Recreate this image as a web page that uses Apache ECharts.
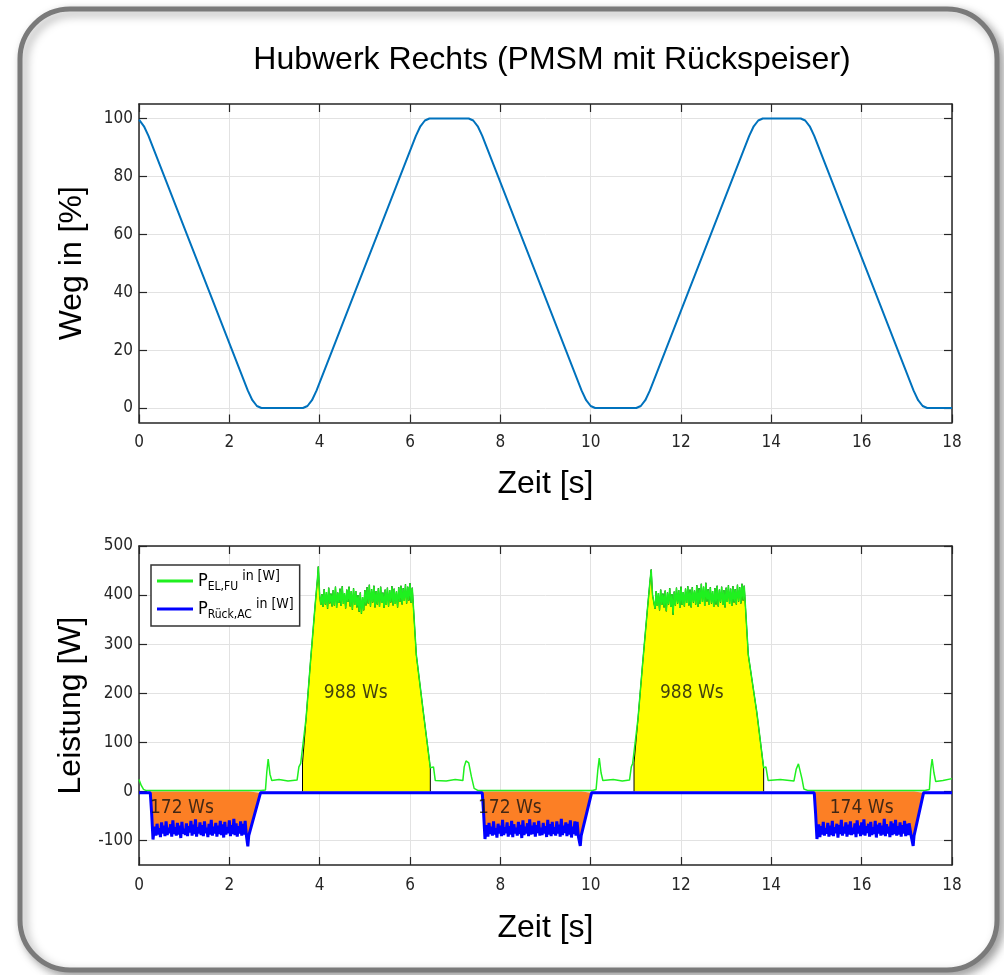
<!DOCTYPE html>
<html>
<head>
<meta charset="utf-8">
<title>Hubwerk Rechts</title>
<script src="https://cdn.jsdelivr.net/npm/echarts@6/dist/echarts.min.js"></script>
<style>
  html, body { margin: 0; padding: 0; background: #fff; }
  #chart { width: 1004px; height: 975px; }
</style>
</head>
<body>
<div id="chart"></div>
<script>
// --- data ---
const wegTicks = [0, 20, 40, 60, 80, 100];
const leistungTicks = [-100, 0, 100, 200, 300, 400, 500];

// Weg in [%] over Zeit [s]
const weg = [
  [0, 99.6], [0.11, 97.3], [0.21, 94], [0.56, 80], [1.06, 60], [1.56, 40], [2.06, 20],
  [2.41, 6], [2.51, 2.7], [2.61, 0.7], [2.71, 0],
  [3.63, 0], [3.73, 0.7], [3.83, 2.7], [3.93, 6], [4.28, 20], [4.78, 40], [5.28, 60], [5.78, 80],
  [6.13, 94], [6.23, 97.3], [6.33, 99.3], [6.43, 100],
  [7.30, 100], [7.40, 99.3], [7.50, 97.3], [7.60, 94], [7.95, 80], [8.45, 60], [8.95, 40], [9.45, 20],
  [9.80, 6], [9.90, 2.7], [10.00, 0.7], [10.10, 0],
  [11.01, 0], [11.11, 0.7], [11.21, 2.7], [11.31, 6], [11.66, 20], [12.16, 40], [12.66, 60], [13.16, 80],
  [13.51, 94], [13.61, 97.3], [13.71, 99.3], [13.81, 100],
  [14.65, 100], [14.75, 99.3], [14.85, 97.3], [14.95, 94], [15.30, 80], [15.80, 60], [16.30, 40], [16.80, 20],
  [17.15, 6], [17.25, 2.7], [17.35, 0.7], [17.45, 0], [18, 0]
];

// P_EL,FU – pieces around the two noisy plateaus
const elStart = [
  [0, 24], [0.05, 12], [0.1, 4], [0.15, 2], [2.7, 2], [2.8, 3], [2.83, 40], [2.86, 66], [2.9, 35],
  [2.94, 22], [3.1, 24], [3.3, 21], [3.5, 23], [3.54, 50], [3.58, 57], [3.62, 58], [3.7, 150],
  [3.8, 268], [3.9, 380], [3.95, 432], [3.97, 458], [4.0, 400], [4.025, 380]
];
const elPlateau1 = [ // 4.05 .. 6.05, every 0.025 s
  402, 376, 412, 381, 406, 372, 415, 383, 403, 377,
  410, 379, 417, 374, 405, 384, 413, 378, 418, 382,
  404, 373, 411, 386, 417, 377, 408, 370, 414, 380,
  408, 375, 400, 366, 405, 362, 396, 369, 410, 379,
  416, 383, 421, 377, 412, 385, 419, 375, 408, 381,
  414, 376, 417, 384, 405, 374, 411, 380, 415, 377,
  410, 385, 418, 379, 413, 382, 407, 375, 416, 386,
  419, 381, 414, 388, 422, 383, 417, 389, 424, 384,
  415
];
const elMid = [
  [6.14, 278], [6.3, 158], [6.45, 48], [6.52, 50], [6.56, 22], [6.8, 21], [7.0, 24], [7.17, 22],
  [7.2, 50], [7.24, 62], [7.3, 58], [7.36, 30], [7.42, 6], [7.5, 2], [10.04, 2], [10.12, 4],
  [10.16, 45], [10.19, 68], [10.23, 38], [10.27, 22], [10.5, 24], [10.7, 21], [10.86, 23],
  [10.9, 50], [10.93, 57], [10.96, 58], [11.05, 150], [11.15, 260], [11.25, 365], [11.31, 425],
  [11.34, 452], [11.37, 400]
];
const elPlateau2 = [ // 11.40 .. 13.40
  400, 372, 408, 378, 404, 369, 411, 380, 403, 375,
  409, 367, 405, 381, 414, 376, 402, 360, 407, 379,
  415, 383, 410, 374, 417, 380, 406, 377, 413, 384,
  418, 379, 411, 375, 416, 385, 409, 381, 420, 376,
  414, 382, 423, 386, 417, 378, 425, 387, 412, 380,
  416, 383, 408, 376, 414, 381, 419, 377, 411, 385,
  417, 380, 410, 375, 415, 386, 420, 382, 413, 378,
  418, 385, 412, 381, 421, 387, 416, 383, 423, 389,
  419
];
const elEnd = [
  [13.49, 278], [13.68, 160], [13.83, 48], [13.88, 50], [13.93, 22], [14.2, 24], [14.5, 21],
  [14.55, 45], [14.6, 56], [14.64, 54], [14.68, 25], [14.72, 5], [14.8, 2], [17.4, 2], [17.5, 4],
  [17.53, 45], [17.56, 66], [17.6, 38], [17.64, 20], [17.8, 22], [18, 26]
];

// P_Rück,AC
const rueckPlateau1 = [ // 0.35 .. 2.35, every 0.025 s
  -72, -90, -66, -88, -75, -93, -63, -86, -70, -91,
  -61, -89, -74, -85, -67, -92, -59, -87, -73, -90,
  -64, -88, -70, -95, -62, -86, -76, -89, -65, -91,
  -71, -84, -60, -90, -68, -87, -57, -92, -73, -86,
  -63, -89, -69, -91, -61, -85, -74, -93, -66, -88,
  -58, -90, -72, -86, -64, -92, -70, -87, -60, -89,
  -67, -94, -62, -88, -73, -85, -59, -91, -69, -87,
  -56, -89, -65, -92, -71, -86, -61, -90, -66, -88,
  -60
];
const rueckPlateau2 = [ // 7.70 .. 9.70
  -69, -92, -64, -87, -72, -90, -61, -88, -75, -94,
  -66, -86, -70, -91, -58, -89, -73, -85, -63, -92,
  -71, -88, -60, -93, -67, -86, -74, -90, -62, -87,
  -68, -95, -59, -89, -72, -86, -65, -91, -57, -88,
  -70, -87, -63, -92, -69, -85, -60, -90, -74, -89,
  -64, -86, -71, -93, -58, -88, -67, -91, -62, -87,
  -73, -90, -61, -86, -68, -92, -56, -89, -70, -85,
  -63, -91, -66, -88, -59, -94, -72, -87, -61, -90,
  -62
];
const rueckPlateau3 = [ // 15.05 .. 17.05
  -67, -93, -71, -88, -62, -90, -75, -86, -64, -92,
  -70, -89, -60, -91, -73, -85, -66, -94, -69, -87,
  -58, -90, -72, -86, -63, -92, -68, -88, -61, -89,
  -74, -87, -65, -93, -59, -86, -70, -91, -63, -88,
  -57, -90, -71, -85, -66, -92, -62, -89, -73, -87,
  -60, -94, -68, -86, -64, -90, -70, -88, -56, -91,
  -67, -86, -72, -93, -61, -89, -65, -87, -58, -90,
  -71, -88, -63, -92, -69, -86, -60, -91, -66, -89,
  -65
];
const rueckEdges = [
  [[0, -3], [0.25, -3], [0.28, -45], [0.31, -98], [0.33, -82]],
  [[2.38, -92], [2.41, -112], [2.43, -90], [2.69, -3], [7.6, -3], [7.63, -45], [7.66, -97], [7.68, -82]],
  [[9.73, -93], [9.77, -111], [9.79, -90], [10.02, -3], [14.95, -3], [14.98, -45], [15.01, -97], [15.03, -82]],
  [[17.1, -93], [17.14, -111], [17.16, -90], [17.37, -3], [18, -3]]
];

// shaded energy areas [from, to] and their labels
const motorSpans = [[3.62, 6.45], [10.96, 13.83]];
const rueckSpans = [[0.25, 2.69], [7.6, 10.02], [14.95, 17.37]];
const annoText = ['988 Ws', '988 Ws', '172 Ws', '172 Ws', '174 Ws'];
const annoTime = [4.8, 12.24, 0.95, 8.21, 16.0];
const annoValue = [200, 200, -33, -33, -33];

// --- build series data ---
const step = 0.025;
const withTime = (t0, vals) => vals.map((v, i) => [+(t0 + i * step).toFixed(3), v]);

const pEl = [].concat(elStart, withTime(4.05, elPlateau1), elMid, withTime(11.40, elPlateau2), elEnd);
const pRueck = [].concat(
  rueckEdges[0], withTime(0.35, rueckPlateau1),
  rueckEdges[1], withTime(7.70, rueckPlateau2),
  rueckEdges[2], withTime(15.05, rueckPlateau3),
  rueckEdges[3]
);

const slice = (arr, a, b) => arr.filter(p => p[0] >= a && p[0] <= b);

const NARROW = "'DejaVu Sans', sans-serif";
const SANS = "'Liberation Sans', Arial, sans-serif";
const AXIS_COL = '#262626';
const GRID_COL = '#e2e2e2';

const nameEl = 'P_EL,FU in [W]';
const nameRueck = 'P_Rück,AC in [W]';

const tickFont = { fontSize: 17, fontStyle: 'condensed', color: AXIS_COL, fontFamily: NARROW };

function xAxisMain(gridIndex, gap) {
  return {
    type: 'value', gridIndex: gridIndex, position: 'bottom', min: 0, max: 18, interval: 2,
    axisLine: { show: true, onZero: false, lineStyle: { color: AXIS_COL, width: 1.5 } },
    axisTick: { show: true, inside: true, length: 8, lineStyle: { color: AXIS_COL, width: 1.2 } },
    axisLabel: Object.assign({ margin: 12 }, tickFont),
    splitLine: { show: true, lineStyle: { color: GRID_COL, width: 1 } },
    name: 'Zeit [s]', nameLocation: 'middle', nameGap: gap,
    nameTextStyle: { fontSize: 32, color: '#000', fontFamily: SANS }
  };
}
function xAxisTop(gridIndex) {
  return {
    type: 'value', gridIndex: gridIndex, position: 'top', min: 0, max: 18, interval: 2,
    axisLine: { show: true, onZero: false, lineStyle: { color: AXIS_COL, width: 1.5 } },
    axisTick: { show: true, inside: true, length: 8, lineStyle: { color: AXIS_COL, width: 1.2 } },
    axisLabel: { show: false }, splitLine: { show: false }
  };
}
function yAxisMain(gridIndex, min, max, ticks, name, gap) {
  return {
    type: 'value', gridIndex: gridIndex, position: 'left', min: min, max: max,
    axisLine: { show: true, onZero: false, lineStyle: { color: AXIS_COL, width: 1.5 } },
    axisTick: { show: true, inside: true, length: 8, customValues: ticks, lineStyle: { color: AXIS_COL, width: 1.2 } },
    axisLabel: Object.assign({ margin: 6, customValues: ticks }, tickFont),
    splitLine: { show: true, lineStyle: { color: GRID_COL, width: 1 } },
    name: name, nameLocation: 'middle', nameGap: gap,
    nameTextStyle: { fontSize: 32, color: '#000', fontFamily: SANS }
  };
}
function yAxisRight(gridIndex, min, max, ticks) {
  return {
    type: 'value', gridIndex: gridIndex, position: 'right', min: min, max: max,
    axisLine: { show: true, onZero: false, lineStyle: { color: AXIS_COL, width: 1.5 } },
    axisTick: { show: true, inside: true, length: 8, customValues: ticks, lineStyle: { color: AXIS_COL, width: 1.2 } },
    axisLabel: { show: false }, splitLine: { show: false }
  };
}

const fillSeries = [];
motorSpans.forEach(s => {
  fillSeries.push({
    type: 'line', xAxisIndex: 2, yAxisIndex: 2, showSymbol: false, silent: true, z: 1,
    data: [[s[0], 0]].concat(slice(pEl, s[0], s[1]), [[s[1], 0]]),
    lineStyle: { color: '#000', width: 1 },
    areaStyle: { color: '#ffff00', opacity: 1 }
  });
});
rueckSpans.forEach(s => {
  fillSeries.push({
    type: 'line', xAxisIndex: 2, yAxisIndex: 2, showSymbol: false, silent: true, z: 1,
    data: [[s[0], 0]].concat(slice(pRueck, s[0], s[1]), [[s[1], 0]]),
    lineStyle: { width: 0 },
    areaStyle: { color: '#fc7f25', opacity: 1 }
  });
});

const legendRich = (size, align) => ({
  fontSize: size, lineHeight: 24, verticalAlign: align, fontStyle: 'condensed',
  fontFamily: NARROW, color: '#000'
});

const option = {
  animation: false,
  backgroundColor: '#fff',
  graphic: [{
    type: 'rect', z: -10, silent: true,
    shape: { x: 20, y: 9, width: 977, height: 961, r: 50 },
    style: {
      fill: '#fff', stroke: '#7a7a7a', lineWidth: 5,
      shadowBlur: 10, shadowOffsetX: 4, shadowOffsetY: 4, shadowColor: 'rgba(0,0,0,0.35)'
    }
  }],
  title: {
    text: 'Hubwerk Rechts (PMSM mit Rückspeiser)',
    left: 547, top: 39, textAlign: 'center',
    textStyle: { fontSize: 32, fontWeight: 'normal', color: '#000', fontFamily: SANS }
  },
  legend: {
    data: [nameEl, nameRueck],
    orient: 'vertical', left: 151, top: 565,
    backgroundColor: '#fff', borderColor: '#333', borderWidth: 1.5, borderRadius: 0,
    padding: [4, 6, 5, 6], itemGap: 4, itemWidth: 36, itemHeight: 3, icon: 'rect',
    formatter: n => n === nameEl ? '{p|P}{s|EL,FU}{t| in [W]}' : '{p|P}{s|Rück,AC}{t| in [W]}',
    textStyle: {
      color: '#000', fontFamily: NARROW,
      rich: { p: legendRich(18, 'middle'), s: legendRich(12, 'bottom'), t: legendRich(14, 'top') }
    }
  },
  grid: [
    { left: 139, right: 52, top: 104, height: 318.5 },
    { left: 139, right: 52, top: 546, height: 319 }
  ],
  xAxis: [xAxisMain(0, 46), xAxisTop(0), xAxisMain(1, 47), xAxisTop(1)],
  yAxis: [
    yAxisMain(0, -5, 105, wegTicks, 'Weg in [%]', 51),
    yAxisRight(0, -5, 105, wegTicks),
    yAxisMain(1, -150, 500, leistungTicks, 'Leistung [W]', 51),
    yAxisRight(1, -150, 500, leistungTicks)
  ],
  series: [
    {
      name: 'Weg', type: 'line', xAxisIndex: 0, yAxisIndex: 0, showSymbol: false, z: 3,
      data: weg, lineStyle: { color: '#0072bd', width: 2 }, itemStyle: { color: '#0072bd' }
    }
  ].concat(fillSeries, [
    {
      name: nameEl, type: 'line', xAxisIndex: 2, yAxisIndex: 2, showSymbol: false, z: 3,
      data: pEl, lineStyle: { color: '#1ff01f', width: 1.5 }, itemStyle: { color: '#1ff01f' }
    },
    {
      name: nameRueck, type: 'line', xAxisIndex: 2, yAxisIndex: 2, showSymbol: false, z: 4,
      data: pRueck, lineStyle: { color: '#0000ff', width: 3 }, itemStyle: { color: '#0000ff' }
    },
    {
      type: 'scatter', xAxisIndex: 2, yAxisIndex: 2, symbolSize: 0, silent: true, z: 5,
      data: annoTime.map((t, i) => [t, annoValue[i], annoText[i]]),
      label: {
        show: true, position: 'inside', formatter: p => p.data[2],
        fontSize: 19, fontStyle: 'condensed', color: '#111', fontFamily: NARROW
      }
    }
  ])
};

const myChart = echarts.init(document.getElementById('chart'));
myChart.setOption(option);
</script>
</body>
</html>
